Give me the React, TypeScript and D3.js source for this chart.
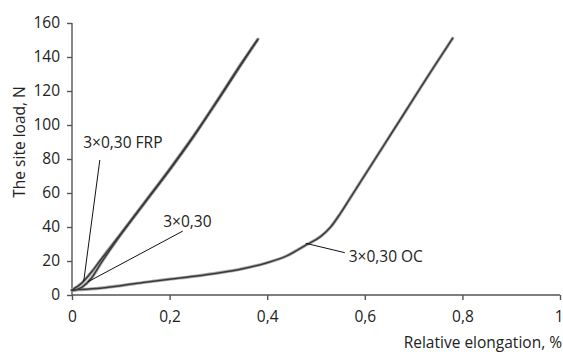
import React, { useRef, useEffect } from "react";
import * as d3 from "d3";

// x: relative elongation (%), y: load (N)
const xTicks = [0, 0.2, 0.4, 0.6, 0.8, 1];
const xTickLabels = ["0", "0,2", "0,4", "0,6", "0,8", "1"];
const yTicks = [0, 20, 40, 60, 80, 100, 120, 140, 160];

const frpCurve: [number, number][] = [
  [0, 3], [0.02, 7], [0.04, 13.5], [0.057, 20], [0.1, 36], [0.15, 55],
  [0.2, 74], [0.25, 94], [0.3, 115], [0.35, 137], [0.38, 150],
];
const plainCurve: [number, number][] = [
  [0, 2.5], [0.02, 4.5], [0.04, 10], [0.06, 19], [0.1, 35.5], [0.15, 54.5],
  [0.2, 73.5], [0.25, 93.5], [0.3, 115.5], [0.35, 137.5], [0.381, 150.5],
];
const ocCurve: [number, number][] = [
  [0, 3], [0.05, 3.8], [0.1, 5.5], [0.15, 7.5], [0.2, 9.3], [0.25, 11],
  [0.3, 13], [0.35, 15.5], [0.4, 19], [0.44, 23], [0.48, 29.5], [0.51, 34.5],
  [0.53, 40], [0.55, 48], [0.57, 57], [0.6, 70.5], [0.62, 79.5], [0.66, 97.5],
  [0.7, 115.5], [0.74, 133.5], [0.78, 151],
];

// annotations: label text, text anchor point, leader line from -> to (data space)
const annotations = [
  { text: "3×0,30 FRP", at: [0.023, 86.5], from: [0.057, 79.4], to: [0.024, 8] },
  { text: "3×0,30", at: [0.187, 40], from: [0.227, 37.6], to: [0.033, 7.8] },
  { text: "3×0,30 OC", at: [0.567, 19.6], from: [0.559, 24.9], to: [0.479, 30.4] },
];

export default function App() {
  const svgRef = useRef<SVGSVGElement>(null);
  const width = 563;
  const height = 352;

  useEffect(() => {
    const svg = d3.select(svgRef.current);
    svg.selectAll("*").remove();
    const font = "'Open Sans', sans-serif";

    const x = d3.scaleLinear().domain([0, 1]).range([72, 560]);
    const y = d3.scaleLinear().domain([0, 160]).range([295, 23]);

    // Axes
    const xAxis = svg
      .append("g")
      .attr("transform", `translate(0,${y(0)})`)
      .call(
        d3.axisBottom(x).tickValues(xTicks).tickSize(5).tickPadding(11)
          .tickFormat((_, i) => xTickLabels[i])
      );
    const yAxis = svg
      .append("g")
      .attr("transform", `translate(${x(0)},0)`)
      .call(d3.axisLeft(y).tickValues(yTicks).tickSize(5).tickPadding(7));

    [xAxis, yAxis].forEach((a) => {
      a.selectAll(".tick line").attr("stroke", "#555").attr("stroke-width", 1.4);
      a.select(".domain").remove();
      a.selectAll("text").attr("fill", "#222").attr("font-size", 15.5).attr("font-family", font);
    });
    // last x label sits at the page edge: keep it inside
    xAxis.selectAll<SVGTextElement, number>(".tick text")
      .filter((d) => d === 1)
      .attr("text-anchor", "end")
      .attr("x", 3);

    svg.append("line").attr("x1", x(0)).attr("x2", x(1)).attr("y1", y(0)).attr("y2", y(0))
      .attr("stroke", "#555").attr("stroke-width", 1.4);
    svg.append("line").attr("x1", x(0)).attr("x2", x(0)).attr("y1", y(0)).attr("y2", y(160))
      .attr("stroke", "#555").attr("stroke-width", 1.4);

    // Curves
    const line = d3
      .line<[number, number]>()
      .x((d) => x(d[0]))
      .y((d) => y(d[1]))
      .curve(d3.curveMonotoneX);

    [plainCurve, frpCurve, ocCurve].forEach((c) => {
      svg.append("path").attr("d", line(c)).attr("fill", "none")
        .attr("stroke", "#aaa").attr("stroke-width", 3.2).attr("stroke-linecap", "round");
    });
    [plainCurve, frpCurve, ocCurve].forEach((c) => {
      svg.append("path").attr("d", line(c)).attr("fill", "none")
        .attr("stroke", "#3a3a3a").attr("stroke-width", 1.5).attr("stroke-linecap", "round");
    });

    // Annotations
    annotations.forEach((a) => {
      svg.append("line")
        .attr("x1", x(a.from[0])).attr("y1", y(a.from[1]))
        .attr("x2", x(a.to[0])).attr("y2", y(a.to[1]))
        .attr("stroke", "#111").attr("stroke-width", 1);
      svg.append("text")
        .attr("x", x(a.at[0])).attr("y", y(a.at[1]))
        .attr("font-size", 15.5).attr("font-family", font).attr("fill", "#222")
        .text(a.text);
    });

    // Axis titles
    svg.append("text")
      .attr("x", 562).attr("y", 348)
      .attr("text-anchor", "end")
      .attr("font-size", 15.5).attr("font-family", font).attr("fill", "#222")
      .text("Relative elongation, %");
    svg.append("text")
      .attr("transform", "translate(25,142) rotate(-90)")
      .attr("text-anchor", "middle")
      .attr("font-size", 15.5).attr("font-family", font).attr("fill", "#222")
      .text("The site load, N");
  }, []);

  return (
    <div style={{ position: "absolute", left: 0, top: 0 }}>
      <svg ref={svgRef} width={width} height={height} style={{ display: "block", background: "#fff" }} />
    </div>
  );
}
